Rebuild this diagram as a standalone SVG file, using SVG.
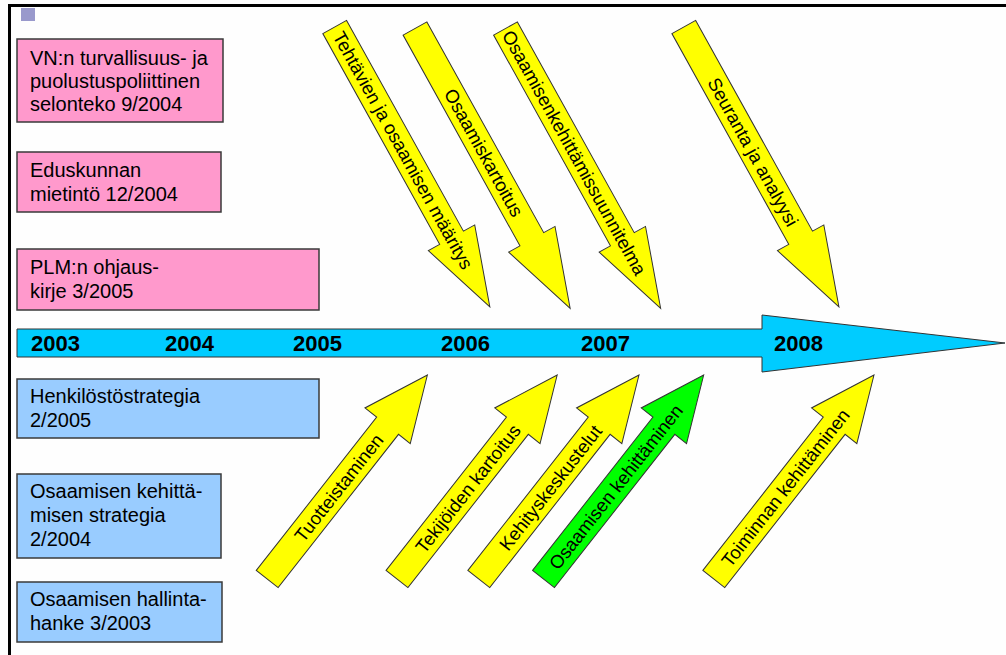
<svg xmlns="http://www.w3.org/2000/svg" xmlns:xlink="http://www.w3.org/1999/xlink" width="1006" height="655" viewBox="0 0 1006 655">
<defs>
<style>
.box{stroke:#3a3a3a;stroke-width:1.5}
.pink{fill:#ff99cc}
.blue{fill:#99ccff}
.bt{font-family:"Liberation Sans",Arial,sans-serif;font-size:20px;fill:#000}
.yr{font-family:"Liberation Sans",Arial,sans-serif;font-size:22px;font-weight:bold;fill:#000}
.at{font-family:"Liberation Sans",Arial,sans-serif;font-size:18.5px;fill:#000;text-anchor:middle;dominant-baseline:central}
.arr{stroke:#333;stroke-width:1}
.y{fill:#ffff00}
.g{fill:#00ff00}
</style>
<path id="topArrow" d="M0,-13.6 L241,-13.6 L241,-26.5 L320,0 L241,26.5 L241,13.6 L0,13.6 Z"/>
<path id="botArrow" d="M0,-13.9 L194.9,-13.9 L194.9,-28.8 L259.3,0 L194.9,28.8 L194.9,13.9 L0,13.9 Z"/>
</defs>
<rect x="0" y="0" width="1006" height="655" fill="#fefefe"/>
<g id="frame">
<rect x="8" y="4" width="998" height="3" fill="#000"/>
<rect x="8" y="4" width="3" height="651" fill="#000"/>
<rect x="21" y="8" width="14" height="13" fill="#9999cc"/>
</g>
<g id="box-vn"><rect class="box pink" x="17" y="39" width="206" height="83"/>
<text class="bt" x="30" y="65">VN:n turvallisuus- ja</text>
<text class="bt" x="30" y="88">puolustuspoliittinen</text>
<text class="bt" x="30" y="111">selonteko 9/2004</text></g>
<g id="box-edus"><rect class="box pink" x="17" y="152" width="204" height="60"/>
<text class="bt" x="30" y="177">Eduskunnan</text>
<text class="bt" x="30" y="201">mietintö 12/2004</text></g>
<g id="box-plm"><rect class="box pink" x="17" y="249" width="302" height="61"/>
<text class="bt" x="30" y="274">PLM:n ohjaus-</text>
<text class="bt" x="30" y="298">kirje 3/2005</text></g>
<g id="box-henk"><rect class="box blue" x="17" y="379" width="302" height="59"/>
<text class="bt" x="30" y="403">Henkilöstöstrategia</text>
<text class="bt" x="30" y="427">2/2005</text></g>
<g id="box-okstrat"><rect class="box blue" x="17" y="474" width="204" height="84"/>
<text class="bt" x="30" y="498">Osaamisen kehittä-</text>
<text class="bt" x="30" y="522">misen strategia</text>
<text class="bt" x="30" y="546">2/2004</text></g>
<g id="box-ohall"><rect class="box blue" x="17" y="582" width="205" height="60"/>
<text class="bt" x="30" y="606">Osaamisen hallinta-</text>
<text class="bt" x="30" y="630">hanke 3/2003</text></g>
<g id="timeline">
<path d="M17,329 L762,329 L762,315 L1005,343 L762,372 L762,357 L17,357 Z" fill="#00ccff" stroke="#333" stroke-width="1"/>
<text class="yr" x="31" y="351">2003</text>
<text class="yr" x="165" y="351">2004</text>
<text class="yr" x="293" y="351">2005</text>
<text class="yr" x="441" y="351">2006</text>
<text class="yr" x="581" y="351">2007</text>
<text class="yr" x="774" y="351">2008</text>
</g>
<g id="connectors">
<g id="a-tehtavien" transform="translate(334.7,27) rotate(61)"><use xlink:href="#topArrow" class="arr y"/><text class="at" x="141" y="0">Tehtävien ja osaamisen määritys</text></g>
<g id="a-osaamiskartoitus" transform="translate(415,28.5) rotate(61)"><use xlink:href="#topArrow" class="arr y"/><text class="at" x="142" y="0">Osaamiskartoitus</text></g>
<g id="a-suunnitelma" transform="translate(505.5,28.5) rotate(61)"><use xlink:href="#topArrow" class="arr y"/><text class="at" x="142" y="0">Osaamisenkehittämissuunnitelma</text></g>
<g id="a-seuranta" transform="translate(683.8,27) rotate(61)"><use xlink:href="#topArrow" class="arr y"/><text class="at" x="143" y="0">Seuranta ja analyysi</text></g>
<g id="a-tuotteistaminen" transform="translate(267.2,579) rotate(-51.85)"><use xlink:href="#botArrow" class="arr y"/><text class="at" x="116" y="0">Tuotteistaminen</text></g>
<g id="a-tekijoiden" transform="translate(397,579) rotate(-51.85)"><use xlink:href="#botArrow" class="arr y"/><text class="at" x="115" y="0">Tekijöiden kartoitus</text></g>
<g id="a-kehitys" transform="translate(478.8,579) rotate(-51.85)"><use xlink:href="#botArrow" class="arr y"/><text class="at" x="116" y="0">Kehityskeskustelut</text></g>
<g id="a-osaamisenkeh" transform="translate(543.5,579) rotate(-51.85)"><use xlink:href="#botArrow" class="arr g"/><text class="at" x="117" y="0">Osaamisen kehittäminen</text></g>
<g id="a-toiminnan" transform="translate(713.8,579) rotate(-51.85)"><use xlink:href="#botArrow" class="arr y"/><text class="at" x="116" y="0">Toiminnan kehittäminen</text></g>
</g>
</svg>
